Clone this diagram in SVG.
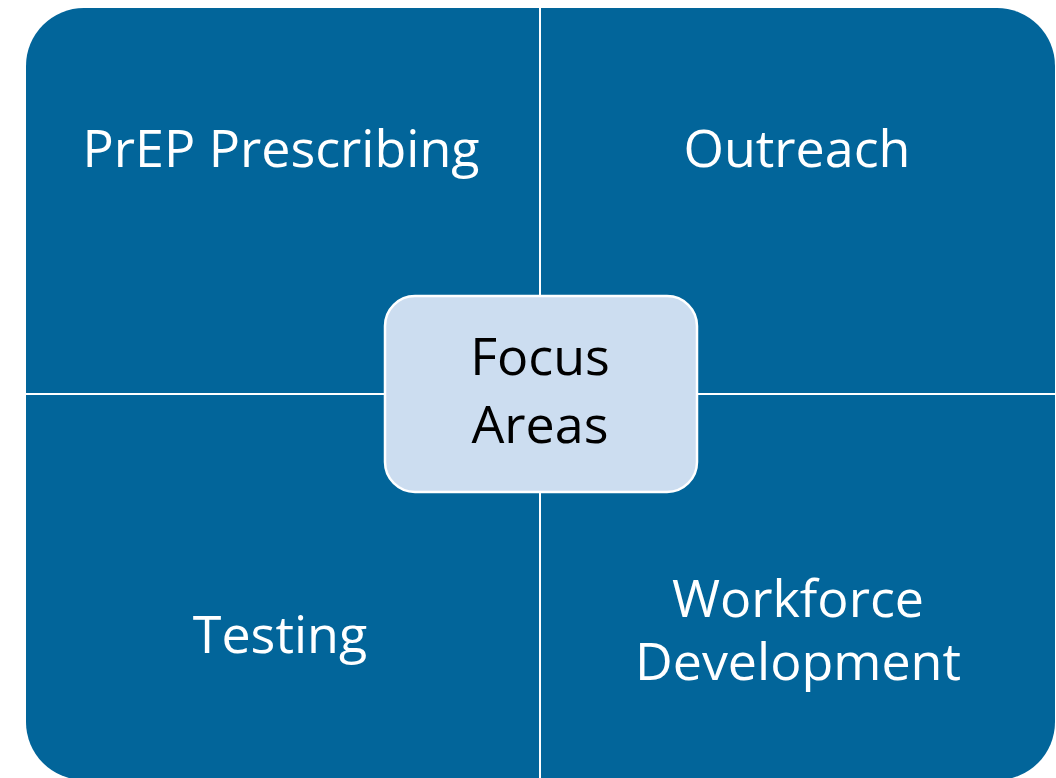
<svg xmlns="http://www.w3.org/2000/svg" width="1056" height="778" viewBox="0 0 1056 778">
  <style>
    .quad { fill: #02659A; }
    .qtxt { font-family: "Open Sans", "Liberation Sans", sans-serif; font-size: 52px; fill: #FFFFFF; text-anchor: middle; }
    .ctxt { font-family: "Open Sans", "Liberation Sans", sans-serif; font-size: 52px; fill: #000000; text-anchor: middle; }
    .center { fill: #CCDDF0; stroke: #FFFFFF; stroke-width: 2.5; }
  </style>
  <rect width="1056" height="778" fill="#FFFFFF"/>
  <g id="prep-prescribing">
    <path class="quad" d="M26,393 V66 A58,58 0 0 1 84,8 H539 V393 Z"/>
    <text class="qtxt" x="281" y="167">PrEP Prescribing</text>
  </g>
  <g id="outreach">
    <path class="quad" d="M541,8 H997 A58,58 0 0 1 1055,66 V393 H541 Z"/>
    <text class="qtxt" x="797" y="167">Outreach</text>
  </g>
  <g id="testing">
    <path class="quad" d="M26,395 H539 V780 H84 A58,58 0 0 1 26,722 Z"/>
    <text class="qtxt" x="280" y="653">Testing</text>
  </g>
  <g id="workforce-development">
    <path class="quad" d="M541,395 H1055 V722 A58,58 0 0 1 997,780 H541 Z"/>
    <text class="qtxt" x="798" y="617">Workforce</text>
    <text class="qtxt" x="798" y="680">Development</text>
  </g>
  <g id="focus-areas">
    <rect class="center" x="385" y="296" width="312" height="196" rx="30" ry="30"/>
    <text class="ctxt" x="540" y="375">Focus</text>
    <text class="ctxt" x="540" y="443">Areas</text>
  </g>
  <g id="connectors"></g>
</svg>
